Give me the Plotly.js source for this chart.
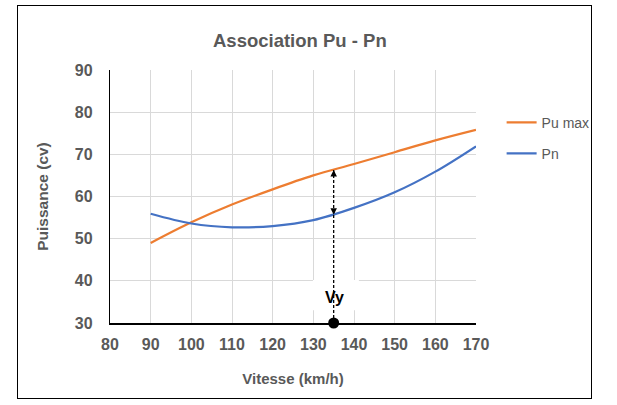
<!DOCTYPE html>
<html>
<head>
<meta charset="utf-8">
<script src="https://cdn.plot.ly/plotly-3.0.1.min.js"></script>
<style>
  body { margin: 0; background: #fff; }
  #wrap { position: relative; width: 617px; height: 405px; }
  #chart { width: 617px; height: 405px; }
  #frame {
    position: absolute; left: 17px; top: 5px; width: 575px; height: 394px;
    border: 1.5px solid #000; box-sizing: border-box; pointer-events: none;
  }
</style>
</head>
<body>
<div id="wrap">
  <div id="chart"></div>
  <div id="frame"></div>
</div>
<script>
// vitesse (km/h) et puissances (cv)
var vitessePu = [90, 100, 110, 120, 130, 140, 150, 160, 170];
var puMax     = [49.0, 53.9, 58.1, 61.7, 65.0, 67.7, 70.5, 73.3, 75.8];
var vitessePn = [90, 100, 110, 120, 130, 140, 150, 160, 170];
var pn        = [55.9, 53.6, 52.7, 53.0, 54.4, 57.3, 61.0, 65.9, 71.9];

// point Vy
var vy = 135;
var puVy = 66.3;
var pnVy = 55.7;
var yMin = 30;

var grey = '#595959';
var font = 'Liberation Sans, Arial, sans-serif';

var tracePu = {
    x: vitessePu,
    y: puMax,
    name: 'Pu max',
    type: 'scatter',
    mode: 'lines',
    line: { color: '#ED7D31', width: 2.25, shape: 'spline', smoothing: 1 },
    legendgroup: 'a'
};
var tracePn = {
    x: vitessePn,
    y: pn,
    name: 'Pn',
    type: 'scatter',
    mode: 'lines',
    line: { color: '#4472C4', width: 2.25, shape: 'spline', smoothing: 1 },
    legendgroup: 'b'
};
var traceVy = {
    x: [vy, vy],
    y: [yMin, puVy],
    type: 'scatter',
    mode: 'lines',
    line: { color: '#000', width: 1.3, dash: '3px,2px' },
    showlegend: false,
    hoverinfo: 'skip'
};
var dotVy = {
    x: [vy],
    y: [yMin],
    type: 'scatter',
    mode: 'markers',
    marker: { color: '#000', size: 11 },
    cliponaxis: false,
    showlegend: false
};

var layout = {
    width: 617,
    height: 405,
    margin: { l: 110, r: 141, t: 69.5, b: 82.3 },
    paper_bgcolor: '#fff',
    plot_bgcolor: '#fff',
    font: { family: font, color: grey },
    title: {
        text: '<b>Association Pu - Pn</b>',
        font: { size: 18.5, color: grey, family: font },
        xref: 'container', x: 0.486,
        yref: 'container', y: 0.901, yanchor: 'middle'
    },
    xaxis: {
        range: [80, 170],
        dtick: 10,
        showgrid: true,
        gridcolor: '#d9d9d9',
        gridwidth: 1,
        zeroline: false,
        showline: true,
        linecolor: '#000',
        linewidth: 1.5,
        tickfont: { size: 16, color: grey, family: font, weight: 'bold' },
        ticklabelstandoff: 6,
        title: {
            text: '<b>Vitesse (km/h)</b>',
            font: { size: 15, color: grey, family: font },
            standoff: 22
        }
    },
    yaxis: {
        range: [30, 90],
        dtick: 10,
        showgrid: true,
        gridcolor: '#d9d9d9',
        gridwidth: 1,
        zeroline: false,
        showline: true,
        linecolor: '#000',
        linewidth: 1.2,
        tickfont: { size: 16, color: grey, family: font, weight: 'bold' },
        ticklabelstandoff: 13,
        title: {
            text: '<b>Puissance (cv)</b>',
            font: { size: 15.5, color: grey, family: font },
            standoff: 22
        }
    },
    legend: {
        x: 1.07, xanchor: 'left',
        y: 0.855, yanchor: 'top',
        traceorder: 'grouped',
        tracegroupgap: 10,
        font: { size: 14, color: grey, family: font },
        itemwidth: 30
    },
    shapes: [{
        type: 'rect', layer: 'between',
        xref: 'x', yref: 'y',
        x0: 129.9, x1: 141.2, y0: 33, y1: 40.2,
        fillcolor: '#fff', line: { width: 0 }
    }],
    annotations: [
        {
            x: vy, y: puVy, ax: vy, ay: puVy - 1.6,
            xref: 'x', yref: 'y', axref: 'x', ayref: 'y',
            text: '', showarrow: true, arrowhead: 2, arrowsize: 1,
            arrowwidth: 1.3, arrowcolor: '#000'
        },
        {
            x: vy, y: pnVy, ax: vy, ay: pnVy + 1.6,
            xref: 'x', yref: 'y', axref: 'x', ayref: 'y',
            text: '', showarrow: true, arrowhead: 2, arrowsize: 1,
            arrowwidth: 1.3, arrowcolor: '#000'
        },
        {
            x: vy + 0.3, y: 36,
            xref: 'x', yref: 'y',
            text: '<b>Vy</b>', showarrow: false,
            font: { size: 16, color: '#000', family: font }
        }
    ]
};

Plotly.newPlot('chart', [tracePu, tracePn, traceVy, dotVy], layout, {
    displayModeBar: false,
    staticPlot: true
});
</script>
</body>
</html>
